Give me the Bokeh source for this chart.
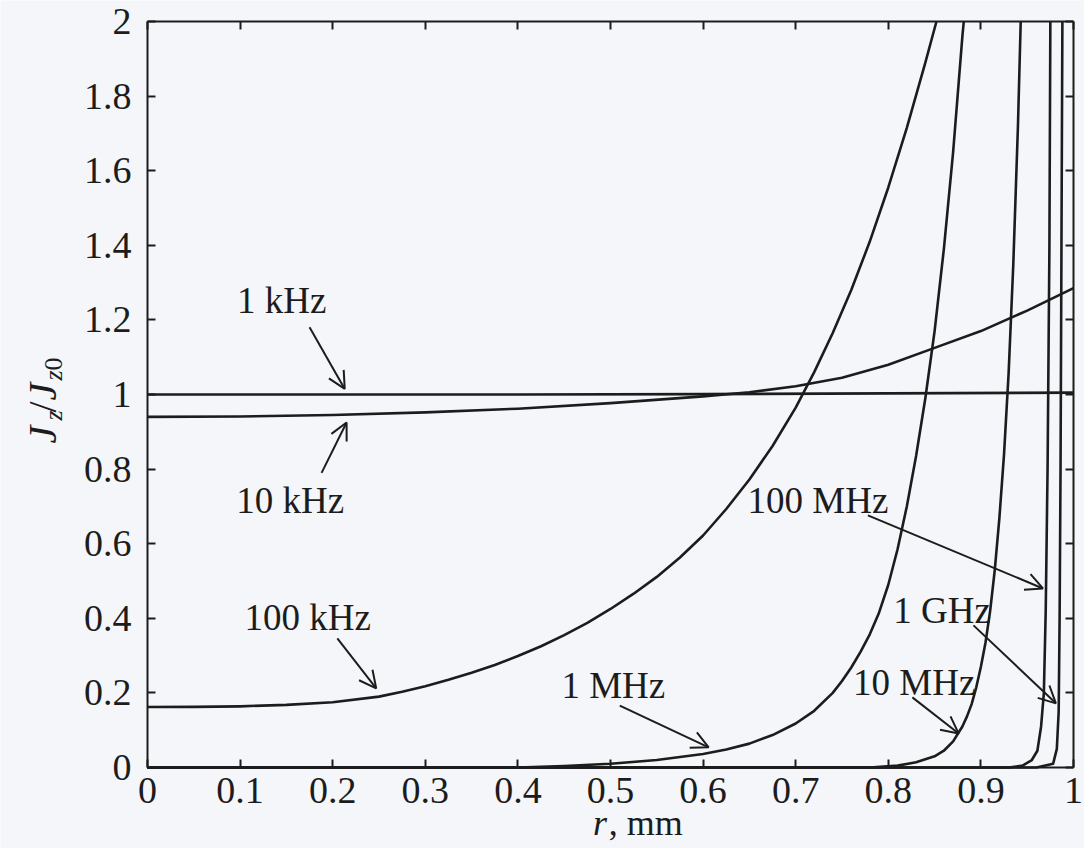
from bokeh.plotting import figure
from bokeh.models import Range1d, LinearAxis, FixedTicker, Label, Arrow, OpenHead
from bokeh.embed import file_html
from bokeh.resources import INLINE
import math

# ---------------- data ----------------
r_1khz = [0.0, 0.2, 0.4, 0.6, 0.8, 1.0]
j_1khz = [1.0, 1.0, 1.0, 1.001, 1.003, 1.005]

r_10khz = [0.0, 0.1, 0.2, 0.3, 0.4, 0.5, 0.6, 0.65, 0.7, 0.75, 0.8, 0.85, 0.9, 0.95, 1.0]
j_10khz = [0.94, 0.941, 0.945, 0.952, 0.962, 0.977, 0.995, 1.006, 1.022, 1.045, 1.08, 1.125, 1.17, 1.225, 1.285]

r_100khz = [0.0, 0.05, 0.1, 0.15, 0.2, 0.25, 0.275, 0.3, 0.325, 0.35, 0.375, 0.4, 0.425, 0.45,
            0.475, 0.5, 0.525, 0.55, 0.575, 0.6, 0.625, 0.65, 0.675, 0.7, 0.72, 0.74, 0.76,
            0.78, 0.8, 0.82, 0.84, 0.852]
j_100khz = [0.162, 0.1625, 0.164, 0.168, 0.175, 0.19, 0.203, 0.218, 0.235, 0.254, 0.275, 0.299,
            0.325, 0.355, 0.388, 0.425, 0.466, 0.511, 0.563, 0.622, 0.693, 0.772, 0.862, 0.965,
            1.06, 1.165, 1.28, 1.41, 1.555, 1.715, 1.89, 2.0]

r_1mhz = [0.0, 0.4, 0.45, 0.5, 0.55, 0.6, 0.625, 0.65, 0.675, 0.7, 0.72, 0.74, 0.75, 0.76,
          0.77, 0.78, 0.79, 0.8, 0.81, 0.82, 0.83, 0.84, 0.85, 0.86, 0.87, 0.88, 0.8815]
j_1mhz = [0.0, 0.0, 0.004, 0.01, 0.02, 0.036, 0.048, 0.064, 0.087, 0.118, 0.152, 0.2, 0.232,
          0.268, 0.31, 0.357, 0.415, 0.49, 0.585, 0.70, 0.835, 0.99, 1.17, 1.39, 1.65, 1.96, 2.0]

r_10mhz = [0.0, 0.78, 0.81, 0.83, 0.85, 0.86, 0.87, 0.88, 0.885, 0.89, 0.895, 0.9, 0.905,
           0.91, 0.915, 0.92, 0.925, 0.93, 0.935, 0.94, 0.943]
j_10mhz = [0.0, 0.0, 0.005, 0.014, 0.03, 0.045, 0.07, 0.11, 0.137, 0.17, 0.215, 0.27, 0.335,
           0.42, 0.53, 0.67, 0.84, 1.06, 1.35, 1.72, 2.0]

r_100mhz = [0.0, 0.93, 0.945, 0.955, 0.961, 0.965, 0.968, 0.970, 0.972, 0.974, 0.975]
j_100mhz = [0.0, 0.0, 0.005, 0.02, 0.045, 0.11, 0.2, 0.42, 0.8, 1.4, 2.0]

r_1ghz = [0.0, 0.96, 0.978, 0.982, 0.984, 0.985, 0.986, 0.987, 0.988]
j_1ghz = [0.0, 0.0, 0.01, 0.05, 0.15, 0.4, 0.8, 1.4, 2.0]

series_r = [r_1khz, r_10khz, r_100khz, r_1mhz, r_10mhz, r_100mhz, r_1ghz]
series_j = [j_1khz, j_10khz, j_100khz, j_1mhz, j_10mhz, j_100mhz, j_1ghz]

x_ticks = [0, 0.1, 0.2, 0.3, 0.4, 0.5, 0.6, 0.7, 0.8, 0.9, 1]
x_tick_labels = ["0", "0.1", "0.2", "0.3", "0.4", "0.5", "0.6", "0.7", "0.8", "0.9", "1"]
y_ticks = [0, 0.2, 0.4, 0.6, 0.8, 1, 1.2, 1.4, 1.6, 1.8, 2]
y_tick_labels = ["0", "0.2", "0.4", "0.6", "0.8", "1", "1.2", "1.4", "1.6", "1.8", "2"]

label_texts = ["1 kHz", "10 kHz", "100 kHz", "1 MHz", "10 MHz", "1 GHz", "100 MHz"]

# ---------------- layout of annotations ----------------
label_pos = [(0.145, 1.252), (0.154, 0.716), (0.173, 0.402), (0.503, 0.22),
             (0.828, 0.228), (0.858, 0.42), (0.724, 0.716)]
arrow_pos = [((0.175, 1.18), (0.213, 1.015)),
             ((0.188, 0.79), (0.215, 0.925)),
             ((0.205, 0.346), (0.247, 0.212)),
             ((0.51, 0.166), (0.606, 0.054)),
             ((0.826, 0.188), (0.876, 0.091)),
             ((0.892, 0.381), (0.981, 0.172)),
             ((0.778, 0.676), (0.967, 0.48))]

INK = "#1c1c1c"
BG = "#f4f6f9"
SERIF = "Liberation Serif"

W, H = 1084, 848
FL, FR, FT, FB = 147, 1073, 21, 767          # frame edges in pixels
sx = (FR - FL) / 1.0
sy = (FB - FT) / 2.0
xr = Range1d(-FL / sx, 1 + (W - FR) / sx)
yr = Range1d(-(H - FB) / sy, 2 + FT / sy)

p = figure(width=W, height=H, output_backend="svg", toolbar_location=None,
           x_range=xr, y_range=yr, min_border=0,
           background_fill_color=BG, border_fill_color=BG)
p.grid.visible = False
p.outline_line_color = None


def style_axis(ax, ticks, labels, show_labels, standoff, loc, bounds):
    ax.fixed_location = loc
    ax.bounds = bounds
    ax.ticker = FixedTicker(ticks=ticks)
    ax.minor_tick_line_color = None
    ax.major_tick_in = 8
    ax.major_tick_out = 0
    ax.major_tick_line_width = 2
    ax.major_tick_line_color = INK
    ax.axis_line_width = 2
    ax.axis_line_color = INK
    ax.major_label_text_font = SERIF
    ax.major_label_text_color = INK
    ax.major_label_text_font_size = "38px"
    ax.major_label_standoff = standoff
    if show_labels:
        ax.major_label_overrides = {t: l for t, l in zip(ticks, labels)}
    else:
        ax.major_label_overrides = {t: "" for t in ticks}


style_axis(p.xaxis[0], x_ticks, x_tick_labels, True, 10, 0, (0, 1))
style_axis(p.yaxis[0], y_ticks, y_tick_labels, True, 16, 0, (0, 2))

top = LinearAxis()
style_axis(top, x_ticks, x_tick_labels, False, 0, 2, (0, 1))
p.add_layout(top, "above")
right = LinearAxis()
style_axis(right, y_ticks, y_tick_labels, False, 0, 1, (0, 2))
p.add_layout(right, "right")

for rs, js in zip(series_r, series_j):
    p.line(rs, js, line_color=INK, line_width=2.6, line_join="round")

for txt, (lx, ly) in zip(label_texts, label_pos):
    p.add_layout(Label(x=lx, y=ly, text=txt, text_font=SERIF, text_font_size="37px",
                       text_color=INK, text_align="center", text_baseline="middle"))

for (s, e) in arrow_pos:
    p.add_layout(Arrow(x_start=s[0], y_start=s[1], x_end=e[0], y_end=e[1],
                       line_color=INK, line_width=2,
                       end=OpenHead(size=17, line_color=INK, line_width=2)))

# x-axis title: italic r followed by ", mm"
p.add_layout(Label(x=0.481, y=-0.15, text="r", text_font=SERIF, text_font_size="36px",
                   text_font_style="italic", text_color=INK, text_align="left",
                   text_baseline="alphabetic"))
p.add_layout(Label(x=0.498, y=-0.15, text=", mm", text_font=SERIF, text_font_size="36px",
                   text_color=INK, text_align="left", text_baseline="alphabetic"))

# y-axis title: J_z / J_z0, rotated
ang = math.pi / 2
ylab = [("J", -0.1136, 0.8686, "40px", "italic"),
        ("z", -0.1018, 0.9303, "26px", "italic"),
        ("/", -0.1136, 0.9517, "40px", "normal"),
        ("J", -0.1136, 0.9839, "40px", "italic"),
        ("z", -0.1018, 1.0375, "26px", "italic"),
        ("0", -0.1018, 1.0643, "26px", "normal")]
for t, lx, ly, fs, st in ylab:
    p.add_layout(Label(x=lx, y=ly, text=t, angle=ang, text_font=SERIF, text_font_size=fs,
                       text_font_style=st, text_color=INK, text_align="left",
                       text_baseline="alphabetic"))

open("out.html", "w").write(file_html(p, INLINE))
